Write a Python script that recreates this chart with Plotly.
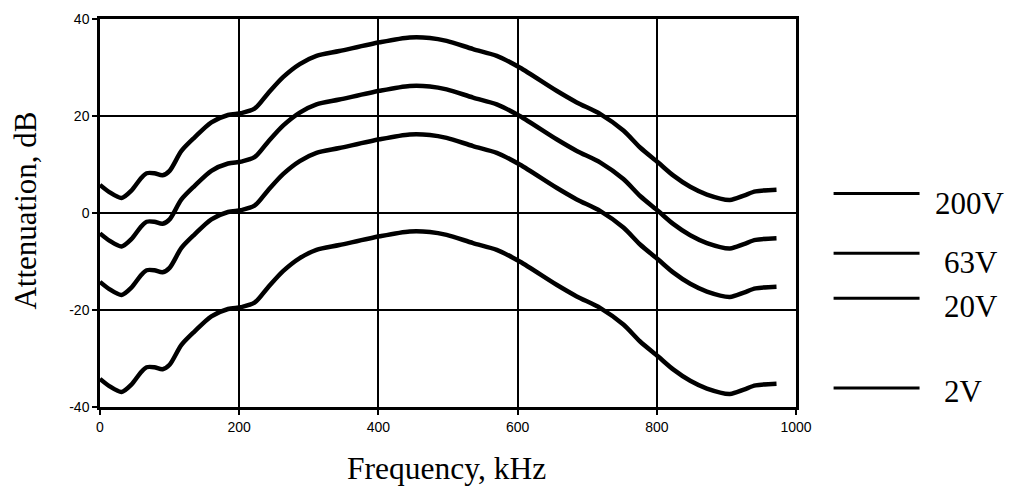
import plotly.graph_objects as go

freq = [0, 14, 31, 45, 58, 67, 78, 90, 100, 117, 136, 160, 184, 203, 222, 241, 263, 287,
        311, 344, 402, 445, 474, 498, 536, 570, 603, 656, 685, 719, 752, 776, 802, 824,
        848, 872, 905, 925, 942, 972]

att_200v = [5.8, 4.25, 3.1, 4.6, 7.0, 8.2, 8.2, 7.8, 8.7, 12.8, 15.6, 18.7, 20.2, 20.6,
            21.5, 24.6, 28.0, 30.7, 32.4, 33.4, 35.2, 36.2, 36.1, 35.5, 33.8, 32.4, 30.0,
            25.2, 22.8, 20.4, 17.0, 13.5, 10.4, 7.7, 5.4, 3.8, 2.7, 3.6, 4.45, 4.8]
att_63v = [-4.2, -5.75, -6.9, -5.4, -3.0, -1.8, -1.8, -2.2, -1.3, 2.8, 5.6, 8.7, 10.2, 10.6,
           11.5, 14.6, 18.0, 20.7, 22.4, 23.4, 25.2, 26.2, 26.1, 25.5, 23.8, 22.4, 20.0,
           15.2, 12.8, 10.4, 7.0, 3.5, 0.4, -2.3, -4.6, -6.2, -7.3, -6.4, -5.55, -5.2]
att_20v = [-14.2, -15.75, -16.9, -15.4, -13.0, -11.8, -11.8, -12.2, -11.3, -7.2, -4.4, -1.3,
           0.2, 0.6, 1.5, 4.6, 8.0, 10.7, 12.4, 13.4, 15.2, 16.2, 16.1, 15.5, 13.8, 12.4,
           10.0, 5.2, 2.8, 0.4, -3.0, -6.5, -9.6, -12.3, -14.6, -16.2, -17.3, -16.4, -15.55,
           -15.2]
att_2v = [-34.2, -35.75, -36.9, -35.4, -33.0, -31.8, -31.8, -32.2, -31.3, -27.2, -24.4,
          -21.3, -19.8, -19.4, -18.5, -15.4, -12.0, -9.3, -7.6, -6.6, -4.8, -3.8, -3.9, -4.5,
          -6.2, -7.6, -10.0, -14.8, -17.2, -19.6, -23.0, -26.5, -29.6, -32.3, -34.6, -36.2,
          -37.3, -36.4, -35.55, -35.2]

series_names = ["200V", "63V", "20V", "2V"]
series_values = [att_200v, att_63v, att_20v, att_2v]
legend_line_y = [4.0, -8.3, -17.6, -36.1]
legend_text_y = [2.0, -10.2, -19.2, -36.8]

x_ticks = [0, 200, 400, 600, 800, 1000]
x_tick_text = ["0", "200", "400", "600", "800", "1000"]
y_ticks = [-40, -20, 0, 20, 40]
y_tick_text = ["-40", "-20", "0", "20", "40"]

SERIF = "Liberation Serif, Times New Roman, serif"
SANS = "Liberation Sans, Arial, sans-serif"

fig = go.Figure()
for name, vals in zip(series_names, series_values):
    fig.add_trace(go.Scatter(x=freq, y=vals, mode="lines", name=name,
                             line=dict(color="black", width=4.5, shape="spline", smoothing=0.8),
                             showlegend=False))

shapes = []
annotations = []
for name, ly, ty in zip(series_names, legend_line_y, legend_text_y):
    shapes.append(dict(type="line", xref="paper", yref="y", x0=1.054, x1=1.1775,
                       y0=ly, y1=ly, line=dict(color="black", width=3)))
    annotations.append(dict(xref="paper", yref="y", x=1.197 if name == "200V" else 1.21,
                            y=ty, text=name, showarrow=False, xanchor="left", yanchor="middle",
                            font=dict(family=SERIF, size=31, color="black")))

# axis titles
annotations.append(dict(xref="paper", yref="paper", x=0.498, y=-0.159,
                        text="Frequency, kHz", showarrow=False,
                        xanchor="center", yanchor="middle",
                        font=dict(family=SERIF, size=31.5, color="black")))
annotations.append(dict(xref="paper", yref="paper", x=-0.107, y=0.505,
                        text="Attenuation, dB", showarrow=False, textangle=-90,
                        xanchor="center", yanchor="middle",
                        font=dict(family=SERIF, size=31, color="black")))

axis_common = dict(showgrid=True, gridcolor="black", gridwidth=1.5, showline=True,
                   linecolor="black", linewidth=2.5, mirror=True, ticks="outside",
                   ticklen=5, tickwidth=1.5, tickcolor="black", zeroline=False,
                   automargin=False,
                   tickfont=dict(family=SANS, size=14, color="black"))

fig.update_layout(
    width=1016, height=487,
    margin=dict(l=100, r=220, t=19, b=80),
    paper_bgcolor="white", plot_bgcolor="white",
    xaxis=dict(range=[0, 1000], tickvals=x_ticks, ticktext=x_tick_text, **axis_common),
    yaxis=dict(range=[-40, 40], tickvals=y_ticks, ticktext=y_tick_text, **axis_common),
    shapes=shapes,
    annotations=annotations,
)

fig.write_html("out.html")
